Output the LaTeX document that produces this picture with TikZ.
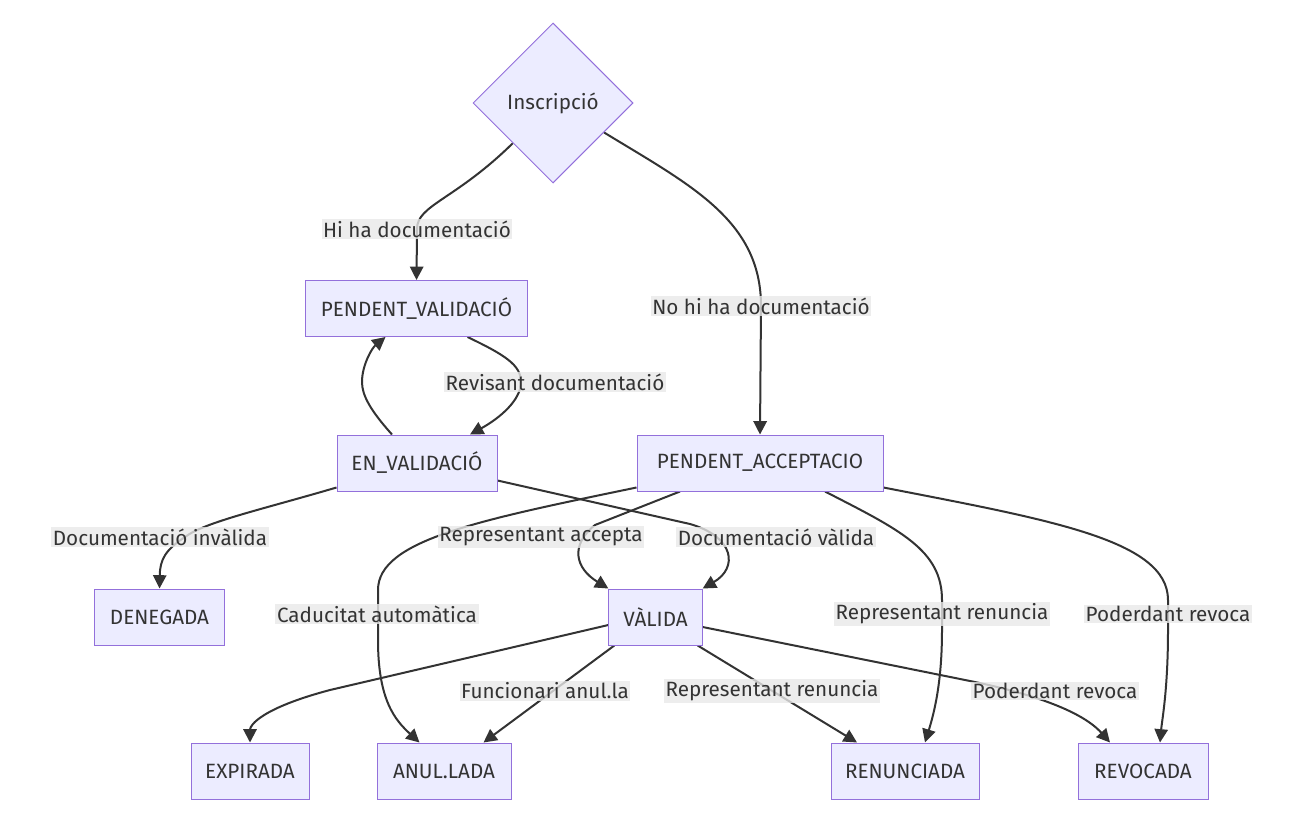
\documentclass[tikz,border=0pt]{standalone}
\usepackage{fontspec}
\setmainfont{Fira Sans}
\usetikzlibrary{shapes.geometric,arrows.meta,calc,backgrounds}
\definecolor{boxfill}{HTML}{ECECFF}
\definecolor{boxline}{HTML}{9370DB}
\definecolor{edgeline}{HTML}{333333}
\definecolor{labelbg}{HTML}{E8E8E8}
\begin{document}
\begin{tikzpicture}[x=0.75pt,y=-0.75pt,
	state/.style={draw=boxline,fill=boxfill,line width=0.75pt,text=edgeline,
		minimum height=42pt,inner sep=0pt,font=\fontsize{15.5}{18}\selectfont},
	cond/.style={diamond,aspect=1,draw=boxline,fill=boxfill,line width=0.75pt,text=edgeline,
		minimum width=120pt,minimum height=120pt,inner sep=0pt,font=\fontsize{15.5}{18}\selectfont},
	lbl/.style={fill=labelbg,fill opacity=0.8,text opacity=1,text=edgeline,
		inner sep=1.2pt,font=\fontsize{15.5}{18}\selectfont},
	edge/.style={draw=edgeline,line width=1.5pt,-{Triangle[length=10pt,width=10pt]}}]
		\useasboundingbox (0,0) rectangle (1303,835);
		% estats
		\node[cond] (insc) at (553,103) {Inscripció};
		\node[state,minimum width=167pt] (pv) at (416.5,308.5) {PENDENT\_VALIDACIÓ};
		\node[state,minimum width=120pt] (env) at (417,463) {EN\_VALIDACIÓ};
		\node[state,minimum width=184.5pt] (pa) at (760,463) {PENDENT\_ACCEPTACIO};
		\node[state,minimum width=98pt] (den) at (159.5,617) {DENEGADA};
		\node[state,minimum width=70pt] (val) at (655.5,617) {VÀLIDA};
		\node[state,minimum width=88.5pt] (exp) at (250,771) {EXPIRADA};
		\node[state,minimum width=100.5pt] (anu) at (444,771) {ANUL.LADA};
		\node[state,minimum width=111pt] (ren) at (905,771) {RENUNCIADA};
		\node[state,minimum width=97.5pt] (rev) at (1143,771) {REVOCADA};
		% etiquetes
		\node[lbl] (hidoc) at (417,229) {Hi ha documentació};
		\node[lbl] (nodoc) at (761,306) {No hi ha documentació};
		\node[lbl] (revis) at (555,382) {Revisant documentació};
		\node[lbl] (docinv) at (160,537) {Documentació invàlida};
		\node[lbl] (repacc) at (541,537) {Representant accepta};
		\node[lbl] (docval) at (776,537) {Documentació vàlida};
		\node[lbl] (caduc) at (377,614) {Caducitat automàtica};
		\node[lbl] (repren) at (942,614) {Representant renuncia};
		\node[lbl] (podrev) at (1168,614) {Poderdant revoca};
		\node[lbl] (funanu) at (545,691) {Funcionari anul.la};
		\node[lbl] (vrepren) at (772,691) {Representant renuncia};
		\node[lbl] (vpodrev) at (1055,691) {Poderdant revoca};
		% transicions
		\begin{scope}[on background layer]
		\draw[edge] (insc.225) .. controls (455,200) and (417,205) .. (hidoc.center) -- (pv.north);
		\draw[edge] (insc.-30) .. controls (690,185) and (761,220) .. (nodoc.center) -- (pa.north);
		\draw[edge] ($(pv.south)+(51,0)$) .. controls (505,355) and (521,365) .. (521,382)
			.. controls (521,400) and (500,418) .. ($(env.north)+(53,0)$);
		\draw[edge] ($(env.north)+(-25,0)$) .. controls (370,410) and (362,395) .. (362,382)
			.. controls (362,365) and (372,348) .. ($(pv.south)+(-31,0)$);
		\draw[edge] ($(env.south west)+(0,-4)$) .. controls (260,510) and (205,522) .. (185,537)
			.. controls (165,550) and (160,560) .. (den.north);
		\draw[edge] ($(env.south east)+(0,-11)$) -- (690,524) .. controls (735,537) and (738,568) .. (val.north east);
		\draw[edge] ($(pa.south)+(-80,0)$) -- (595,525) .. controls (570,545) and (575,568) .. (val.north west);
		\draw[edge] ($(pa.south west)+(0,-4)$) .. controls (480,520) and (378,540) .. (378,590) -- (378,640)
			.. controls (378,700) and (395,720) .. ($(anu.north west)+(43,0)$);
		\draw[edge] ($(pa.south)+(65,0)$) .. controls (900,530) and (942,550) .. (942,600) -- (942,630)
			.. controls (942,680) and (935,710) .. ($(ren.north)+(20,0)$);
		\draw[edge] ($(pa.south east)+(0,-4)$) .. controls (1050,520) and (1168,540) .. (1168,600) -- (1168,630)
			.. controls (1168,690) and (1162,720) .. ($(rev.north)+(17,0)$);
		\draw[edge] ($(val.west)+(0,8)$) -- (330,690) .. controls (262,708) and (250,725) .. (exp.north);
		\draw[edge] ($(val.south west)+(6,0)$) -- ($(anu.north east)+(-28,0)$);
		\draw[edge] ($(val.south east)+(-5,0)$) -- ($(ren.north)+(-48,0)$);
		\draw[edge] ($(val.east)+(0,10)$) -- (975,682) .. controls (1060,700) and (1090,720) .. ($(rev.north)+(-33,0)$);
		\end{scope}
	%
	\end{tikzpicture}
\end{document}
